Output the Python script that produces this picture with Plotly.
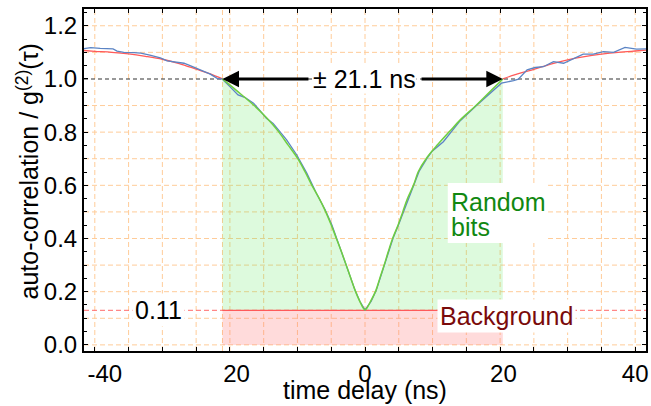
import plotly.graph_objects as go

# ---------------- data ----------------
blue_x = [-41.6, -40.6, -39.2, -37.3, -36.7, -35.7, -34.2, -33.2, -31.7, -30.3, -29.3, -28.0,
          -26.8, -25.8, -24.8, -23.9, -22.9, -21.9, -21.1,
          -20.0, -18.8, -17.8, -16.5, -15.6, -14.6, -13.6, -12.6, -11.6, -10.1, -8.6, -7.2,
          -5.9, -4.9, -4.2, -3.45, -2.8, -2.1, -1.45, -0.75, 0.0,
          0.9, 1.65, 2.25, 2.9, 3.5, 4.15, 4.95, 5.7, 6.4, 7.2, 8.0, 9.2, 9.9, 11.6, 12.6,
          14.1, 16.5, 18.0, 19.0, 20.2,
          22.0, 22.7, 24.0, 25.2, 26.4, 27.9, 29.4, 30.9, 32.3, 33.8, 35.3, 36.8, 38.5, 40.2, 41.6]
blue_y = [1.114, 1.118, 1.115, 1.113, 1.105, 1.100, 1.099, 1.097, 1.089, 1.079, 1.068, 1.063,
          1.059, 1.049, 1.038, 1.030, 1.018, 1.002, 0.999,
          0.971, 0.940, 0.931, 0.909, 0.883, 0.852, 0.833, 0.802, 0.771, 0.714, 0.645, 0.570,
          0.508, 0.451, 0.401, 0.351, 0.301, 0.251, 0.204, 0.163, 0.132,
          0.163, 0.204, 0.251, 0.301, 0.351, 0.401, 0.451, 0.501, 0.551, 0.602, 0.652, 0.702, 0.727, 0.764, 0.795,
          0.843, 0.900, 0.935, 0.955, 0.984,
          0.994, 0.999, 1.034, 1.043, 1.046, 1.065, 1.059, 1.078, 1.093, 1.093, 1.103, 1.100, 1.119, 1.112, 1.113]

green_x = [-21.1, -19.0, -16.5, -14.6, -12.8, -11.4, -10.0, -8.9, -7.9, -6.8, -5.9, -5.0, -4.25,
           -3.5, -2.8, -2.1, -1.45, -0.75, 0.0, 0.8, 1.6, 2.2, 2.85, 3.45, 4.1, 4.9, 5.6, 6.3,
           7.2, 7.9, 9.1, 10.8, 12.5, 14.1, 16.5, 19.0, 20.4]
green_y = [1.000, 0.956, 0.902, 0.855, 0.802, 0.752, 0.702, 0.652, 0.602, 0.552, 0.505, 0.451, 0.401,
           0.351, 0.301, 0.251, 0.204, 0.163, 0.132, 0.163, 0.204, 0.251, 0.301, 0.351, 0.401, 0.451, 0.501, 0.551,
           0.602, 0.652, 0.702, 0.754, 0.802, 0.846, 0.902, 0.965, 1.000]

red_left_x = [-41.6, -40.0, -37.5, -35.0, -32.5, -30.0, -27.5, -25.0, -23.0, -21.1]
red_left_y = [1.107, 1.104, 1.100, 1.094, 1.085, 1.074, 1.058, 1.037, 1.020, 1.000]
red_right_x = [20.4, 22.0, 23.5, 25.0, 27.5, 30.0, 32.5, 35.0, 37.5, 40.0, 41.6]
red_right_y = [1.000, 1.014, 1.026, 1.036, 1.056, 1.072, 1.084, 1.093, 1.100, 1.105, 1.108]

window_left = -21.1
window_right = 20.4
background_level = 0.13
background_label = "0.11"
window_label = "± 21.1 ns"

NB = "\u00a0"
x_tick_vals = [-40, -20, 0, 20, 40]
x_tick_text = [NB * 3 + "-40", NB * 2 + "20", "0", NB + "20", "40"]
y_tick_vals = [0.0, 0.2, 0.4, 0.6, 0.8, 1.0, 1.2]
y_tick_text = ["0.0", "0.2", "0.4", "0.6", "0.8", "1.0", "1.2"]
x_grid = [-40, -35, -30, -25, -20, -15, -10, -5, 0, 5, 10, 15, 20, 25, 30, 35, 40]
y_grid = [0.0, 0.1, 0.2, 0.3, 0.4, 0.5, 0.6, 0.7, 0.8, 0.9, 1.0, 1.1, 1.2]

# ---------------- styles ----------------
FONT = "Liberation Sans, Arial, sans-serif"
GRID = "rgb(255,204,153)"
BLUE = "#5b84c4"
RED = "#ff5a5a"
GREEN = "#6fcf3f"
TXT = "#000000"

fig = go.Figure()

# green area (between background level and fitted curve)
fig.add_trace(go.Scatter(x=[window_left, window_right], y=[background_level, background_level],
                         mode="lines", line=dict(width=0), hoverinfo="skip", showlegend=False))
fig.add_trace(go.Scatter(x=green_x, y=green_y, mode="lines", line=dict(width=0, shape="spline"),
                         fill="tonexty", fillcolor="rgba(100,230,100,0.22)",
                         hoverinfo="skip", showlegend=False))
# pink background area
fig.add_trace(go.Scatter(x=[window_left, window_right], y=[background_level, background_level],
                         mode="lines", line=dict(width=1.2, color=RED),
                         fill="tozeroy", fillcolor="rgba(255,110,110,0.25)",
                         hoverinfo="skip", showlegend=False))
# red outer fits
fig.add_trace(go.Scatter(x=red_left_x, y=red_left_y, mode="lines",
                         line=dict(color=RED, width=1.3, shape="spline"), showlegend=False))
fig.add_trace(go.Scatter(x=red_right_x, y=red_right_y, mode="lines",
                         line=dict(color=RED, width=1.3, shape="spline"), showlegend=False))
# blue data
fig.add_trace(go.Scatter(x=blue_x, y=blue_y, mode="lines",
                         line=dict(color=BLUE, width=1.3), showlegend=False))
# green inner fit
fig.add_trace(go.Scatter(x=green_x, y=green_y, mode="lines",
                         line=dict(color=GREEN, width=1.5, shape="spline"), showlegend=False))

shapes = []
for gx in x_grid + [window_left]:
    shapes.append(dict(type="line", xref="x", x0=gx, x1=gx, yref="paper", y0=0, y1=1,
                       line=dict(color=GRID, width=1, dash="5px,3px"), layer="below"))
for gy in y_grid:
    if gy == 1.0:
        continue
    shapes.append(dict(type="line", xref="paper", x0=0, x1=1, yref="y", y0=gy, y1=gy,
                       line=dict(color=GRID, width=1, dash="5px,3px"), layer="below"))
shapes += [
    dict(type="line", xref="paper", x0=0, x1=1, yref="y", y0=1.0, y1=1.0,
         line=dict(color="#333333", width=1.1, dash="4px,3px"), layer="below"),
    dict(type="line", xref="paper", x0=0, x1=1, yref="y", y0=background_level, y1=background_level,
         line=dict(color="#ff6a6a", width=1, dash="5px,3px"), layer="below"),
    dict(type="rect", xref="x", x0=12.25, x1=27.1, yref="y", y0=0.383, y1=0.609,
         fillcolor="white", line=dict(width=0), layer="above"),
]
fig.update_layout(shapes=shapes)

ann = []
# arrows
ann.append(dict(x=window_left, y=1.0, ax=-8.15, ay=1.0, xref="x", yref="y", axref="x", ayref="y",
                text="", showarrow=True, arrowhead=2, arrowsize=1.1, arrowwidth=3, arrowcolor="black",
                standoff=0, startstandoff=0))
ann.append(dict(x=window_right, y=1.0, ax=8.15, ay=1.0, xref="x", yref="y", axref="x", ayref="y",
                text="", showarrow=True, arrowhead=2, arrowsize=1.1, arrowwidth=3, arrowcolor="black",
                standoff=0, startstandoff=0))
ann.append(dict(x=-0.1, y=1.0, xref="x", yref="y", text=window_label, showarrow=False,
                font=dict(family=FONT, size=25, color=TXT), bgcolor="white", borderpad=0))
# labels
ann.append(dict(x=12.4, y=0.538, xref="x", yref="y", text="Random", showarrow=False, xanchor="left",
                font=dict(family=FONT, size=25, color="#118811")))
ann.append(dict(x=12.4, y=0.443, xref="x", yref="y", text="bits", showarrow=False, xanchor="left",
                font=dict(family=FONT, size=25, color="#118811")))
ann.append(dict(x=21.0, y=0.107, xref="x", yref="y", text="Background", showarrow=False,
                font=dict(family=FONT, size=25, color="#7a0a0a"), bgcolor="white", borderpad=2))
ann.append(dict(x=-30.6, y=background_level, xref="x", yref="y", text=background_label, showarrow=False,
                font=dict(family=FONT, size=25, color=TXT), bgcolor="white", borderpad=2))
# axis titles
ann.append(dict(x=-0.0996, y=0.525, xref="paper", yref="paper", text="auto-correlation / g<sup>(2)</sup>(τ)",
                textangle=-90, showarrow=False, xanchor="center", yanchor="middle",
                font=dict(family=FONT, size=25, color=TXT)))
ann.append(dict(x=0.5, y=-0.114, xref="paper", yref="paper", text="time delay (ns)",
                showarrow=False, xanchor="center", yanchor="middle",
                font=dict(family=FONT, size=25, color=TXT)))
fig.update_layout(annotations=ann)

fig.update_xaxes(range=[-41.6, 41.6], tickmode="array", tickvals=x_tick_vals, ticktext=x_tick_text,
                 ticks="inside", ticklen=4, tickwidth=1.2, tickcolor="black", automargin=False,
                 minor=dict(tickmode="array", tickvals=x_grid, ticks="inside", ticklen=4,
                            tickcolor="black", showgrid=False),
                 showline=True, linecolor="black", linewidth=2, mirror="ticks",
                 showgrid=False, zeroline=False, tickfont=dict(family=FONT, size=24, color=TXT))
fig.update_yaxes(range=[-0.023, 1.263], tickmode="array", tickvals=y_tick_vals, ticktext=y_tick_text,
                 ticks="inside", ticklen=4, tickwidth=1.2, tickcolor="black", automargin=False,
                 minor=dict(tickmode="linear", tick0=0, dtick=0.05, ticks="inside", ticklen=3,
                            tickcolor="black", showgrid=False),
                 showline=True, linecolor="black", linewidth=2, mirror="ticks",
                 showgrid=False, zeroline=False, tickfont=dict(family=FONT, size=24, color=TXT))

fig.update_layout(width=651, height=406, margin=dict(l=84, r=5, t=9, b=55),
                  plot_bgcolor="white", paper_bgcolor="white", showlegend=False)

fig.write_html("out.html", config={"displayModeBar": False},
               post_script="document.body.style.margin='0';document.body.style.padding='0';"
                           "document.body.style.overflow='hidden';")
